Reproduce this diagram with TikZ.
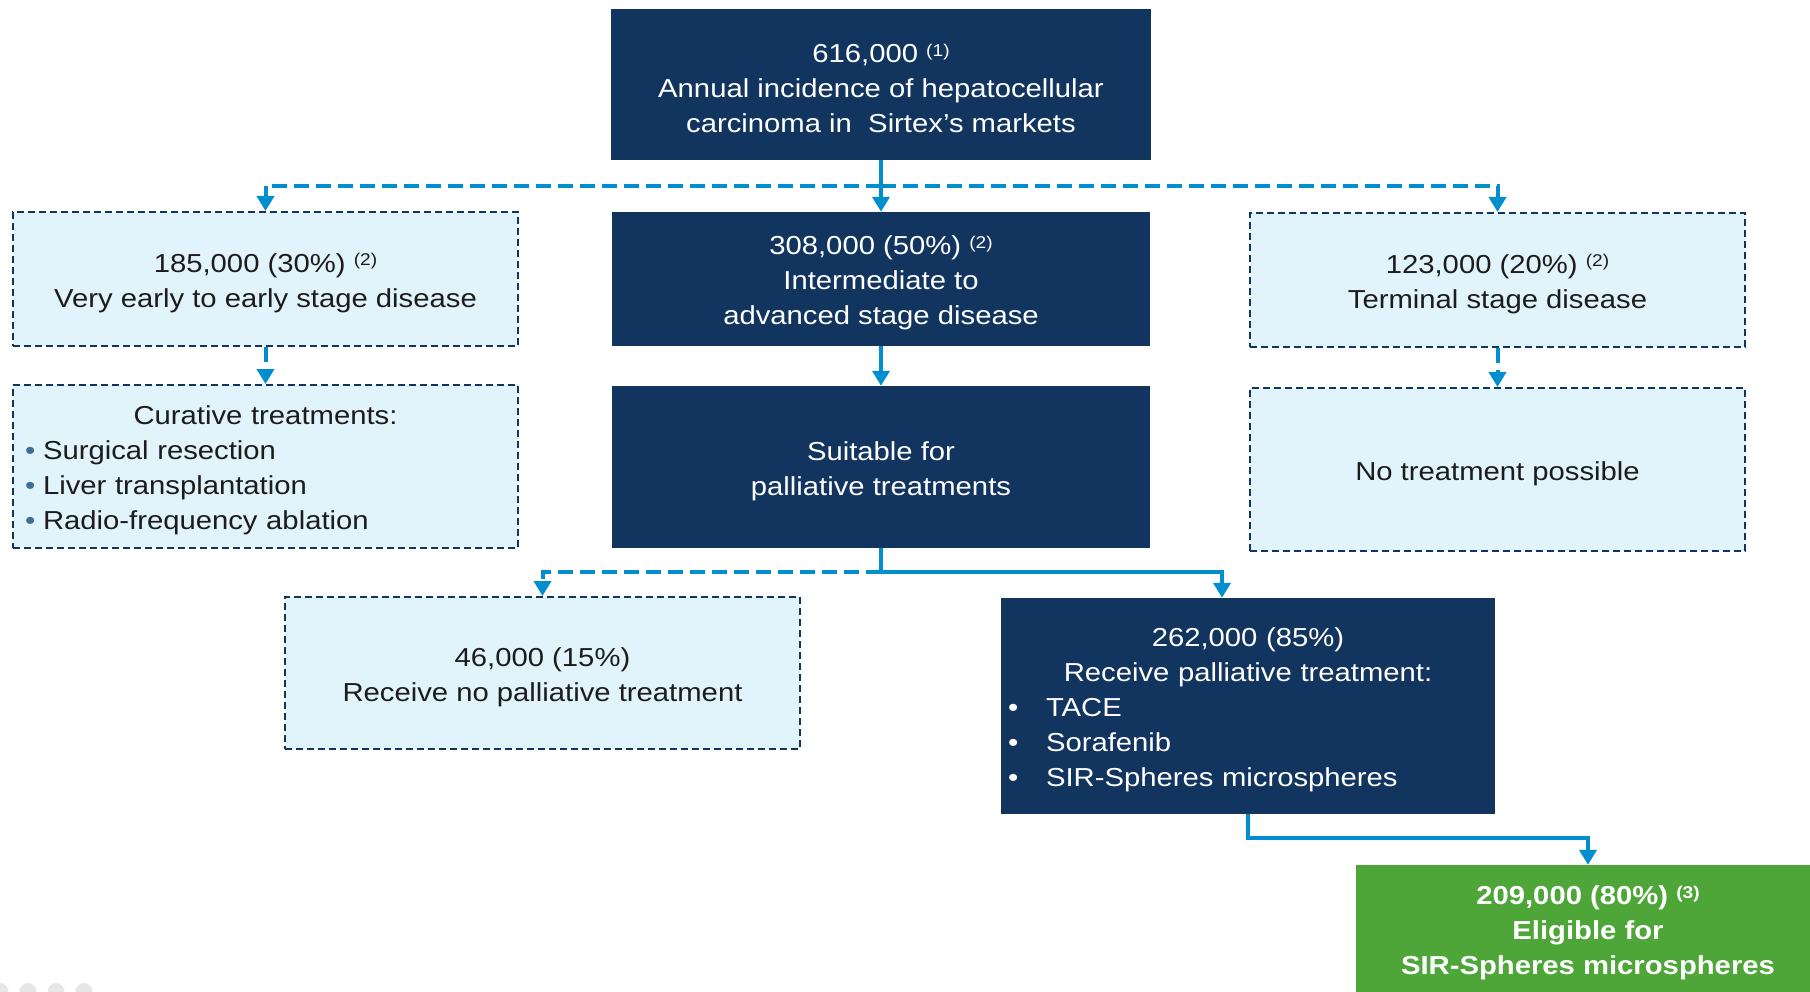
\documentclass[tikz,border=0pt]{standalone}
\usepackage{fontspec}
\setmainfont{Liberation Sans}[FakeStretch=1.125]
\usetikzlibrary{arrows.meta}
\setlength{\parindent}{0pt}

\definecolor{navy}{RGB}{18,53,96}
\definecolor{paleblue}{RGB}{225,244,252}
\definecolor{linkblue}{RGB}{0,142,206}
\definecolor{leafgreen}{RGB}{78,166,56}
\definecolor{dotblue}{RGB}{62,110,150}
\definecolor{inkgray}{RGB}{28,28,28}
\definecolor{dotgray}{RGB}{230,230,230}

\newcommand{\fnote}[1]{\raisebox{6.5pt}{\fontsize{17}{17}\selectfont(#1)}}
\newcommand{\headroom}{\rule{0pt}{26.5pt}}
\newcommand{\curebullet}{\makebox[18pt][l]{\textcolor{dotblue}{•}}}
\newcommand{\palbullet}{\makebox[38pt][l]{•}}

\tikzset{
  darkbox/.style={font=\fontsize{26}{35}\selectfont, fill=navy, text=white, inner sep=0pt, align=center},
  palebox/.style={font=\fontsize{26}{35}\selectfont, fill=paleblue, draw=navy, line width=2pt,
    dash pattern=on 7pt off 4pt, text=inkgray, inner sep=0pt, align=center},
  greenbox/.style={darkbox, fill=leafgreen, font=\fontsize{26}{35}\selectfont\bfseries},
  flowline/.style={draw=linkblue, line width=4pt, -{Triangle[width=17pt,length=15pt]}},
  dashflow/.style={flowline, dash pattern=on 15pt off 7pt},
}

\begin{document}
\begin{tikzpicture}[x=1pt,y=-1pt]
	\useasboundingbox (0,0) rectangle (1810,992);
	\clip (0,0) rectangle (1810,992);
	% slide dots, bottom left
	\foreach \dx in {0,28,56,84}
		\fill[dotgray] (\dx,991.5) circle (8.5pt);

	\node[darkbox,minimum width=540pt,minimum height=151pt] (total) at (881,84.5) {\headroom 616,000 \fnote{1}\\Annual incidence of hepatocellular\\carcinoma in~ Sirtex’s markets};

	\node[palebox,minimum width=505pt,minimum height=134pt] (early) at (265.5,279) {\headroom 185,000 (30\%) \fnote{2}\\Very early to early stage disease};
	\node[darkbox,minimum width=538pt,minimum height=134pt] (mid) at (881,279) {\headroom 308,000 (50\%) \fnote{2}\\Intermediate to\\advanced stage disease};
	\node[palebox,minimum width=495pt,minimum height=134pt] (terminal) at (1497.5,280) {\headroom 123,000 (20\%) \fnote{2}\\Terminal stage disease};

	\node[palebox,align=left,text width=481pt,inner xsep=12pt,minimum width=505pt,minimum height=163pt] (cure) at (265.5,466.5) {{\centering\headroom Curative treatments:\par}\curebullet Surgical resection\\\curebullet Liver transplantation\\\curebullet Radio-frequency ablation};
	\node[darkbox,minimum width=538pt,minimum height=162pt] (suit) at (881,467) {\headroom Suitable for\\palliative treatments};
	\node[palebox,minimum width=495pt,minimum height=163pt] (none) at (1497.5,469.5) {\headroom No treatment possible};

	\node[palebox,minimum width=515pt,minimum height=152pt] (nopal) at (542.5,673) {\headroom 46,000 (15\%)\\Receive no palliative treatment};
	\node[darkbox,align=left,text width=480pt,inner xsep=7pt,minimum width=494pt,minimum height=216pt] (recv) at (1248,706) {{\centering\headroom 262,000 (85\%)\\Receive palliative treatment:\par}\palbullet TACE\\\palbullet Sorafenib\\\palbullet SIR-Spheres microspheres};

	\node[greenbox,minimum width=464pt,minimum height=128pt] (elig) at (1588,929) {\headroom 209,000 (80\%) \fnote{3}\\Eligible for\\SIR-Spheres microspheres};

	\coordinate (split) at (881,186);
	\coordinate (fork) at (881,572);
	\coordinate (bend) at (1248,838);

	\draw[flowline] (total) -- (mid);
	\draw[dashflow] (split) -| (early);
	\draw[dashflow] (split) -| (terminal);
	\draw[dashflow] (early) -- (cure);
	\draw[dashflow] (terminal) -- (none);
	\draw[flowline] (mid) -- (suit);
	\draw[flowline,-] (suit) -- (fork);
	\draw[dashflow] (fork) -| (nopal);
	\draw[flowline] (fork) -| ([xshift=-26pt]recv.north);
	\draw[flowline] (recv) -- (bend) -| (elig);
\end{tikzpicture}
\end{document}
